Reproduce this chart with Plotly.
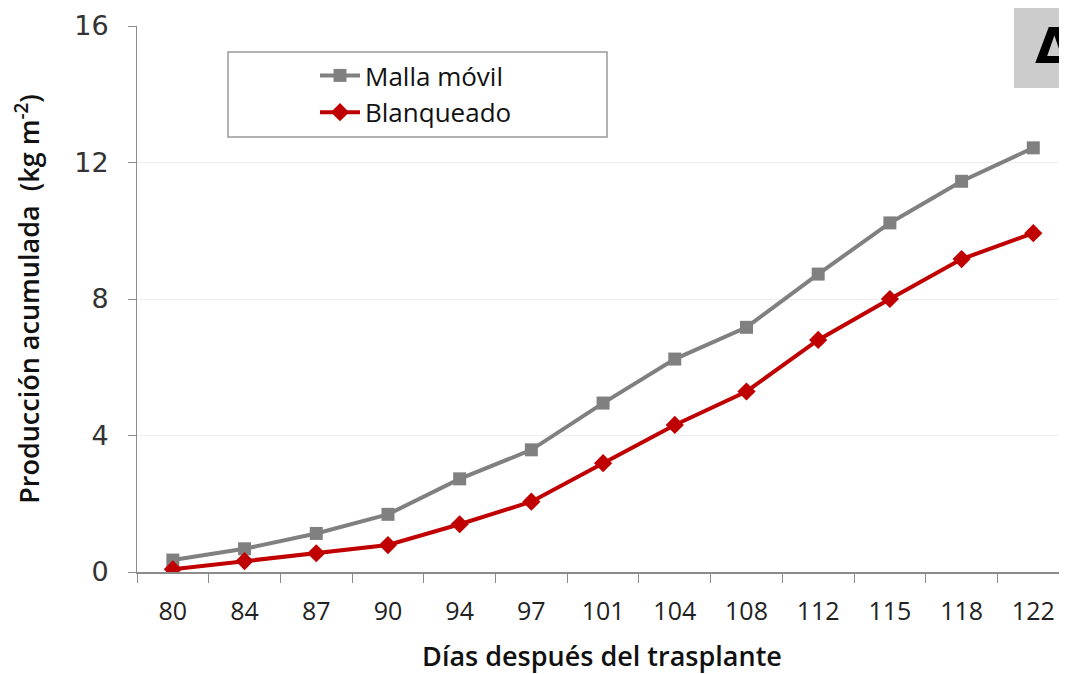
import plotly.graph_objects as go

dias = ["80", "84", "87", "90", "94", "97", "101", "104", "108", "112", "115", "118", "122"]
malla_movil = [0.35, 0.68, 1.13, 1.69, 2.73, 3.58, 4.95, 6.24, 7.17, 8.73, 10.23, 11.45, 12.43]
blanqueado = [0.08, 0.32, 0.55, 0.79, 1.40, 2.06, 3.19, 4.31, 5.29, 6.80, 8.00, 9.17, 9.93]
y_ticks = [0, 4, 8, 12, 16]

# page is offset by the default 8px body margin
OFF = 8
W, H = 1059, 666
L, R, T, B = 137 - OFF, 0, 26 - OFF, 102
pw = W - L - R
ph = H - T - B

def px(x):
    return (x - OFF - L) / pw

def py(y):
    return (H - B - (y - OFF)) / ph

fig = go.Figure()
fig.add_trace(go.Scatter(
    x=dias, y=malla_movil, name="Malla móvil", mode="lines+markers",
    line=dict(color="#808080", width=4),
    marker=dict(symbol="square", size=13, color="#808080"),
))
fig.add_trace(go.Scatter(
    x=dias, y=blanqueado, name="Blanqueado", mode="lines+markers",
    line=dict(color="#c00000", width=4),
    marker=dict(symbol="diamond", size=14, color="#c00000"),
))

fig.update_layout(
    width=W, height=H,
    margin=dict(l=L, r=R, t=T, b=B),
    paper_bgcolor="white", plot_bgcolor="white",
    showlegend=True,
    legend=dict(
        x=px(315), y=py(52), xanchor="left", yanchor="top",
        bgcolor="rgba(0,0,0,0)", borderwidth=0,
        font=dict(family="Open Sans", size=26, color="#111"),
        tracegroupgap=0, itemwidth=40,
    ),
    xaxis=dict(
        type="category", range=[-0.5, 12.47],
        showline=True, linecolor="#8c8c8c", linewidth=2,
        ticks="outside", tickson="boundaries", ticklen=9, tickcolor="#8c8c8c", tickwidth=1,
        showgrid=False, ticklabelstandoff=16,
        tickfont=dict(family="Open Sans", size=25, color="#222"),
        title=dict(text="Días después del trasplante", standoff=22,
                   font=dict(family="Open Sans", size=27, color="#111", weight=600)),
    ),
    yaxis=dict(
        range=[0, 16], tickvals=y_ticks,
        showline=True, linecolor="#8c8c8c", linewidth=1,
        ticks="outside", ticklen=8, tickcolor="#8c8c8c",
        showgrid=True, gridcolor="#eeeeee", gridwidth=1,
        zeroline=False, ticklabelstandoff=14,
        tickfont=dict(family="DejaVu Sans", size=27, color="#333"),
        title=dict(text="Producción acumulada  (kg m<sup>-2</sup>)", standoff=26,
                   font=dict(family="Open Sans", size=27, color="#111", weight=600)),
    ),
    shapes=[
        dict(type="rect", xref="paper", yref="paper",
             x0=px(228), x1=px(607), y0=py(137), y1=py(52),
             line=dict(color="#999999", width=1.5), fillcolor="rgba(0,0,0,0)", layer="below"),
        dict(type="rect", xref="paper", yref="paper",
             x0=px(1014), x1=px(1100), y0=py(88), y1=py(-5),
             line=dict(width=0), fillcolor="#cccccc", layer="above"),
    ],
    annotations=[
        dict(text="<b>Δ</b>", xref="paper", yref="paper",
             x=px(1033), y=py(46), xanchor="left", yanchor="middle",
             showarrow=False, font=dict(family="DejaVu Sans", size=50, color="black")),
    ],
)

fig.write_html("out.html")
